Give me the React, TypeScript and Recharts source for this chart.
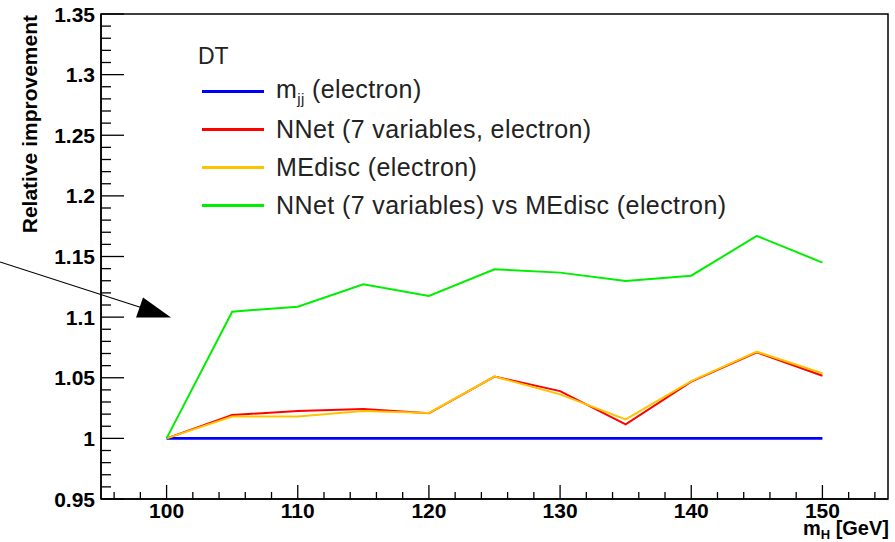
import { LineChart, Line, XAxis, YAxis, ReferenceArea, ReferenceLine, Legend } from 'recharts';

// Higgs mass points (GeV)
const masses = [100, 105, 110, 115, 120, 125, 130, 135, 140, 145, 150];

// relative improvement per method
const mjj = [1, 1, 1, 1, 1, 1, 1, 1, 1, 1, 1];
const nnet = [1, 1.0193, 1.0226, 1.0242, 1.0207, 1.051, 1.039, 1.0116, 1.0468, 1.071, 1.0517];
const medisc = [1, 1.018, 1.018, 1.0226, 1.021, 1.051, 1.0363, 1.0157, 1.0473, 1.0715, 1.0537];
const nnetVsMe = [1, 1.1045, 1.1086, 1.127, 1.1174, 1.1395, 1.1367, 1.1298, 1.1342, 1.167, 1.145];

// axis ticks
const xMajor = [100, 110, 120, 130, 140, 150];
const xMinor = [96, 98, 102, 104, 106, 108, 112, 114, 116, 118, 122, 124, 126, 128, 132, 134, 136, 138, 142, 144, 146, 148, 152, 154];
const yMajor = [0.95, 1, 1.05, 1.1, 1.15, 1.2, 1.25, 1.3, 1.35];
const yMinor: number[] = [];
for (let i = 96; i < 135; i++) if (i % 5 !== 0) yMinor.push(i / 100);

// arrow annotation (data coords)
const arrowFrom = { x: 87.3, y: 1.1455 };
const arrowTo = { x: 100.34, y: 1.0997 };

const series = [
  { key: 'mjj', color: '#0000ff', width: 2.6, label: 'm', sub: 'jj', rest: ' (electron)' },
  { key: 'nnet', color: '#ff0000', width: 2, label: 'NNet (7 variables, electron)', sub: '', rest: '' },
  { key: 'medisc', color: '#ffc400', width: 2, label: 'MEdisc (electron)', sub: '', rest: '' },
  { key: 'nnetVsMe', color: '#00ee00', width: 2, label: 'NNet (7 variables) vs MEdisc (electron)', sub: '', rest: '' },
];

const data = masses.map((m, i) => ({
  mass: m,
  mjj: mjj[i],
  nnet: nnet[i],
  medisc: medisc[i],
  nnetVsMe: nnetVsMe[i],
}));

const FONT = '"Liberation Sans", Arial, sans-serif';

const isMajorY = (v: number) => Math.abs(v * 20 - Math.round(v * 20)) < 1e-6;

const YTick = ({ x, y, payload }: any) => {
  const v = payload.value;
  const major = isMajorY(v);
  const ax = x + 6;
  return (
    <g>
      <line x1={ax} y1={y} x2={ax + (major ? 23 : 10)} y2={y} stroke="#000" strokeWidth={1.3} />
      {major && (
        <text x={x} y={y} dy={7.5} textAnchor="end" fontFamily={FONT} fontWeight="bold" fontSize={21} fill="#000">
          {String(v)}
        </text>
      )}
    </g>
  );
};

const XTick = ({ x, y, payload }: any) => {
  const v = payload.value;
  const major = v % 10 === 0;
  const ay = y - 4;
  return (
    <g>
      <line x1={x} y1={ay} x2={x} y2={ay - (major ? 14 : 7)} stroke="#000" strokeWidth={1.3} />
      {major && (
        <text x={x} y={y} dy={15} textAnchor="middle" fontFamily={FONT} fontWeight="bold" fontSize={21} fill="#000">
          {String(v)}
        </text>
      )}
    </g>
  );
};

const Arrow = (p: any) => {
  const { x1, y1, x2, y2 } = p;
  return (
    <g>
      <line x1={x1} y1={y1} x2={x2 - 30} y2={y2 - 10} stroke="#000" strokeWidth={1.2} />
      <polygon points={`${x2},${y2} ${x2 - 28},${y2 - 20} ${x2 - 35},${y2}`} fill="#000" />
    </g>
  );
};

const LegendBox = () => (
  <div style={{ position: 'relative', width: 560, height: 190, fontFamily: FONT, color: '#222' }}>
    <div style={{ position: 'absolute', left: -4, top: 0, height: 38, lineHeight: '38px', fontSize: 23 }}>DT</div>
    {series.map((s, i) => (
      <div key={s.key} style={{ position: 'absolute', left: 0, top: 35 + i * 38.3, height: 38, display: 'flex', alignItems: 'center', whiteSpace: 'nowrap' }}>
        <div style={{ width: 62, height: 3, background: s.color }} />
        <span style={{ marginLeft: 12, fontSize: 25, letterSpacing: 0.4 }}>
          {s.label}
          {s.sub && <sub style={{ fontSize: 15, verticalAlign: -6 }}>{s.sub}</sub>}
          {s.rest}
        </span>
      </div>
    ))}
  </div>
);

export default function App() {
  return (
    <div style={{ position: 'absolute', left: 0, top: 0, width: 895, height: 542, background: '#fff' }}>
      <LineChart width={895} height={542} data={data} margin={{ top: 14, right: 7, bottom: 0, left: 0 }}>
        <XAxis
          type="number"
          dataKey="mass"
          domain={[95, 155]}
          allowDataOverflow
          ticks={[...xMajor, ...xMinor].sort((a, b) => a - b)}
          interval={0}
          height={43}
          tickSize={0}
          tickMargin={4}
          tick={<XTick />}
          axisLine={{ stroke: '#000', strokeWidth: 1.5 }}
          label={{
            content: (p: any) => {
              const vb = p.viewBox;
              return (
                <text x={vb.x + vb.width + 1} y={vb.y + 36} textAnchor="end" fontFamily={FONT} fontWeight="bold" fontSize={20} fill="#000">
                  m<tspan fontSize={13} dy={4}>H</tspan>
                  <tspan dy={-4}> [GeV]</tspan>
                </text>
              );
            },
          }}
        />
        <YAxis
          type="number"
          domain={[0.95, 1.35]}
          allowDataOverflow
          ticks={[...yMajor, ...yMinor].sort((a, b) => a - b)}
          interval={0}
          width={101}
          tickSize={0}
          tickMargin={6}
          tick={<YTick />}
          axisLine={{ stroke: '#000', strokeWidth: 1.5 }}
          label={{
            content: (p: any) => {
              const vb = p.viewBox;
              const lx = 37;
              const ly = vb.y + 1;
              return (
                <text x={lx} y={ly} transform={`rotate(-90 ${lx} ${ly})`} textAnchor="end" fontFamily={FONT} fontWeight="bold" fontSize={21} fill="#000">
                  Relative improvement
                </text>
              );
            },
          }}
        />
        <ReferenceArea x1={95} x2={155} y1={0.95} y2={1.35} fill="none" stroke="#000" strokeWidth={1.5} ifOverflow="visible" />
        <ReferenceLine segment={[arrowFrom, arrowTo]} ifOverflow="visible" shape={Arrow} />
        {series.map((s) => (
          <Line
            key={s.key}
            type="linear"
            dataKey={s.key}
            stroke={s.color}
            strokeWidth={s.width}
            dot={false}
            activeDot={false}
            isAnimationActive={false}
          />
        ))}
        <Legend
          layout="vertical"
          align="center"
          verticalAlign="middle"
          content={<LegendBox />}
          wrapperStyle={{ left: 202, top: 37, width: 560, height: 190 }}
        />
      </LineChart>
    </div>
  );
}
